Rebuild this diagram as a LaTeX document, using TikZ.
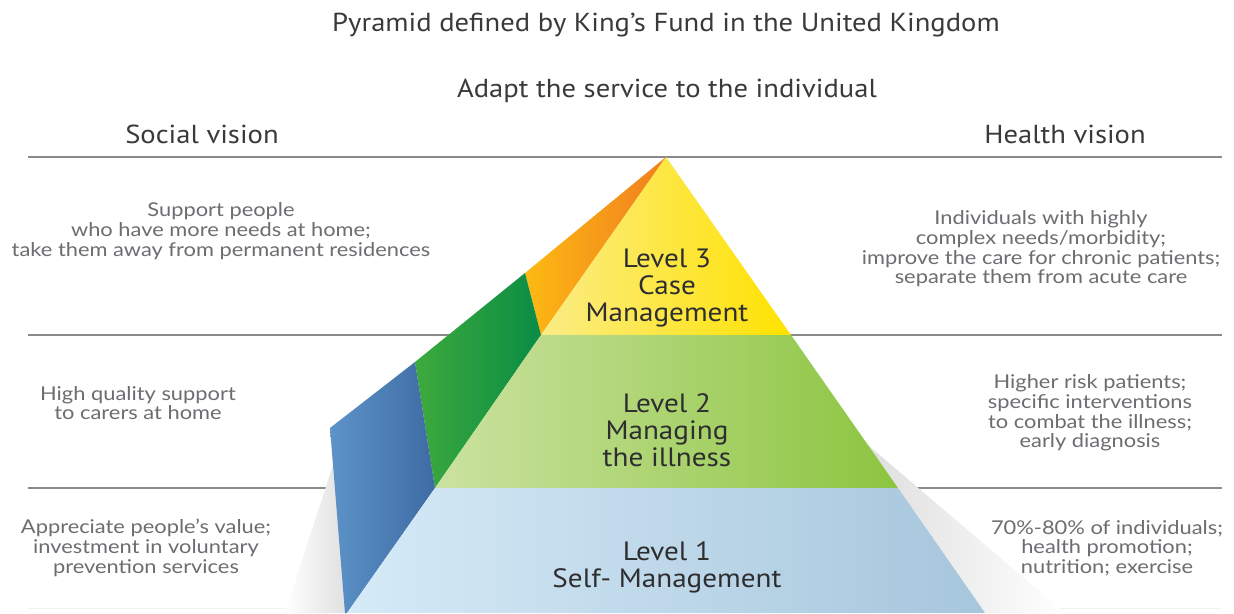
\documentclass[tikz,border=0pt]{standalone}
\usepackage{fontspec}
\setmainfont{Lato}
\newfontfamily\myr[FakeStretch=1.1]{PT Sans}
\newfontfamily\sidefont[FakeStretch=1.15]{Lato}
\definecolor{txtgray}{HTML}{6C6D71}
\definecolor{headgray}{HTML}{3A3A3C}
\definecolor{lvltext}{HTML}{2E2E30}
\definecolor{rulegray}{HTML}{8A8A8C}
\definecolor{orL}{HTML}{FDB913}
\definecolor{orR}{HTML}{F07E1E}
\definecolor{ylL}{HTML}{FBEC85}
\definecolor{ylR}{HTML}{FFE200}
\definecolor{gsL}{HTML}{3DAA3C}
\definecolor{gsR}{HTML}{0A8C45}
\definecolor{gfL}{HTML}{CBE2A0}
\definecolor{gfR}{HTML}{8CC540}
\definecolor{bsL}{HTML}{5C93C8}
\definecolor{bsR}{HTML}{3E6BA3}
\definecolor{bfL}{HTML}{D6EAF7}
\definecolor{bfR}{HTML}{A6C6DC}
\tikzset{
  rule/.style={draw=rulegray, line width=1.1pt},
  sidetext/.style={align=center, text=txtgray, inner sep=0pt, font=\sidefont\fontsize{19}{19.7}\selectfont},
  headtext/.style={text=headgray, inner sep=0pt, font=\myr\fontsize{26}{28}\selectfont},
  lvl/.style={align=center, text=lvltext, inner sep=0pt, font=\myr\fontsize{26.5}{27}\selectfont}
}
\begin{document}
\begin{tikzpicture}[x=1pt,y=-1pt]
\useasboundingbox (0,0) rectangle (1234,613);
\fill[white] (0,0) rectangle (1234,613);

% coordinates of the pyramid
\coordinate (A) at (666,157);
\coordinate (L3l) at (541,335);
\coordinate (L3r) at (791,335);
\coordinate (L2l) at (435,488);
\coordinate (L2r) at (898,488);
\coordinate (L1l) at (347,613);
\coordinate (L1r) at (985,613);
\coordinate (O1) at (525,273);
\coordinate (G1) at (415,362);
\coordinate (B1) at (330,428);
\coordinate (B2) at (345,613);

% rules
\draw[rule] (28,157) -- (1222,157);
\draw[rule] (28,335) -- (1222,335);
\draw[rule] (28,488) -- (1222,488);
\draw[draw=gray!10, line width=1pt] (28,608) -- (1222,608);

% soft shadows
\path[left color=gray!26, right color=white] (862,440) -- (985,613) -- (1065,613) -- cycle;
\path[left color=white, right color=gray!24] (333,465) -- (346,613) -- (285,613) -- cycle;

% side faces
\path[left color=orL, right color=orR] (A) -- (O1) -- (L3l) -- cycle;
\path[left color=gsL, right color=gsR] (O1) -- (L3l) -- (L2l) -- (G1) -- cycle;
\path[left color=bsL, right color=bsR] (G1) -- (B1) -- (B2) -- (L1l) -- (L2l) -- cycle;

% front faces
\path[left color=ylL, right color=ylR] (A) -- (L3l) -- (L3r) -- cycle;
\path[left color=gfL, right color=gfR] (L3l) -- (L3r) -- (L2r) -- (L2l) -- cycle;
\path[left color=bfL, right color=bfR] (L2l) -- (L2r) -- (L1r) -- (L1l) -- cycle;

% titles
\node[headtext] (title) at (666,25) {Pyramid defined by King’s Fund in the United Kingdom};
\node[headtext] (adapt) at (667,91) {Adapt the service to the individual};
\node[headtext] (social) at (202,134) {Social vision};
\node[headtext] (health) at (1065,134) {Health vision};

% level labels
\node[lvl] (lev3) at (667,288) {Level 3\\Case\\Management};
\node[lvl] (lev2) at (667,430) {Level 2\\Managing\\the illness};
\node[lvl] (lev1) at (667,567) {Level 1\\Self- Management};

% side texts
\node[sidetext] (s3) at (221,231) {Support people\\who have more needs at home;\\take them away from permanent residences};
\node[sidetext] (s2) at (138,403) {High quality support\\to carers at home};
\node[sidetext] (s1) at (146,548) {Appreciate people’s value;\\investment in voluntary\\prevention services};
\node[sidetext] (h3) at (1041,249) {Individuals with highly\\complex needs/morbidity;\\improve the care for chronic patients;\\separate them from acute care};
\node[sidetext] (h2) at (1090,413) {Higher risk patients;\\specific interventions\\to combat the illness;\\early diagnosis};
\node[sidetext] (h1) at (1107,548) {70\%-80\% of individuals;\\health promotion;\\nutrition; exercise};
\end{tikzpicture}
\end{document}
